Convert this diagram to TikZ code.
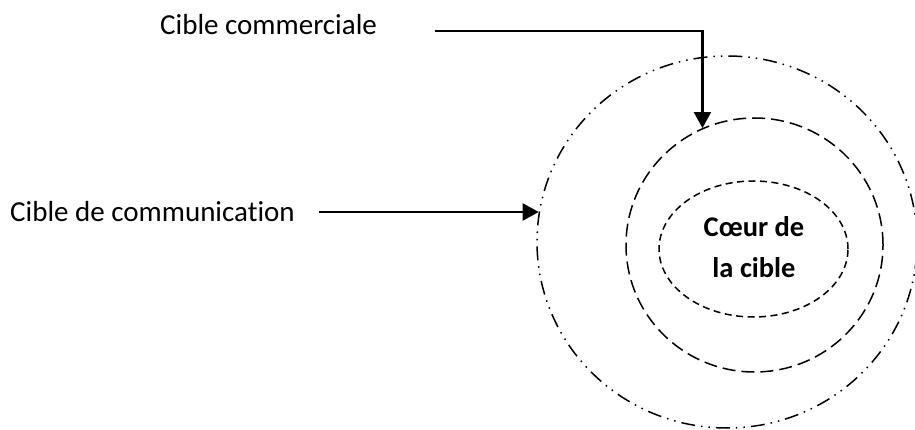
\documentclass[tikz,border=0pt]{standalone}
\usepackage{fontspec}
\setmainfont[Ligatures={NoCommon}]{Carlito}
\usetikzlibrary{shapes.geometric,arrows.meta}
\begin{document}
\begin{tikzpicture}[x=1pt,y=-1pt,
  lbl/.style={font=\fontsize{29}{35}\selectfont, inner sep=0pt, anchor=west},
  core/.style={font=\bfseries\fontsize{28.5}{41}\selectfont, align=center, inner sep=0pt},
  ring/.style={ellipse, draw, inner sep=0pt, line width=1.5pt},
  dashdotdot/.style={dash pattern=on 14pt off 6pt on 1.5pt off 6pt on 1.5pt off 6pt},
  longdash/.style={dash pattern=on 13pt off 6pt},
  shortdash/.style={dash pattern=on 7pt off 4.5pt},
  arr/.style={line width=2.2pt, -{Triangle[length=16pt,width=17pt]}}]
\useasboundingbox (0,0) rectangle (915,430);
\node[ring, dashdotdot, minimum width=380pt, minimum height=372pt] (outer) at (727,242) {};
\node[ring, longdash, minimum width=257pt, minimum height=254pt] (mid) at (754.5,245) {};
\node[ring, shortdash, minimum width=189pt, minimum height=136pt] (inner) at (753.5,249) {};
\node[core] (coeur) at (754,247) {Cœur de\\la cible};
\node[lbl] (tcom) at (160,25) {Cible commerciale};
\node[lbl] (tcomm) at (10,212) {Cible de communication};
\coordinate (s1) at (435,31);
\coordinate (s2) at (319,212);
\draw[arr] (s1) -| (mid.114);
\draw[arr] (s2) -- (s2 -| outer.171);
\end{tikzpicture}
\end{document}
